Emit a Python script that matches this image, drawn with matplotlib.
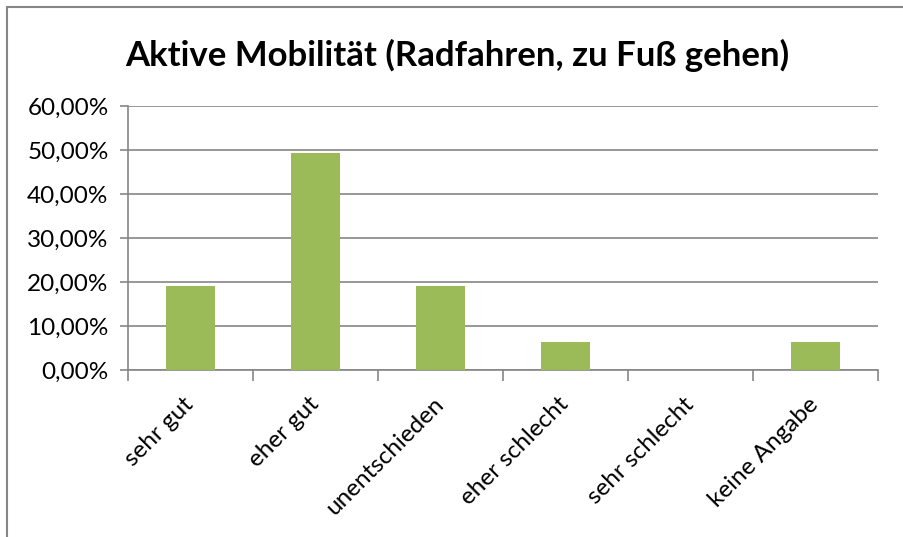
import matplotlib.pyplot as plt
from matplotlib.patches import Rectangle
from matplotlib.ticker import FuncFormatter, FixedLocator, NullFormatter
import numpy as np

categories = ['sehr gut', 'eher gut', 'unentschieden', 'eher schlecht',
              'sehr schlecht', 'keine Angabe']
shares = [19.05, 49.21, 19.05, 6.35, 0.0, 6.35]
y_ticks = [0, 10, 20, 30, 40, 50, 60]

plt.rcParams['font.family'] = ['Lato', 'DejaVu Sans']

W, H = 904, 537
fig = plt.figure(figsize=(W / 100, H / 100), dpi=100)

# chart border (cut off at right and bottom)
fig.patches.append(Rectangle((7 / W, -0.1), 1.2, 1 - 7 / H + 0.1,
                             transform=fig.transFigure, fill=False,
                             edgecolor='#868686', linewidth=1.5))

ax = fig.add_axes([128 / W, 1 - 370 / H, 750 / W, 264 / H])
x = np.arange(len(categories))
ax.bar(x, shares, width=0.39, color='#9BBB59', zorder=3)

ax.set_xlim(-0.5, len(categories) - 0.5)
ax.set_ylim(0, 60)
ax.set_yticks(y_ticks)
ax.yaxis.set_major_formatter(FuncFormatter(lambda v, p: f'{v:.2f}%'.replace('.', ',')))
ax.grid(axis='y', color='#868686', linewidth=1.2, zorder=0)

ax.xaxis.set_major_locator(FixedLocator(np.arange(-0.5, len(categories), 1)))
ax.xaxis.set_major_formatter(NullFormatter())
ax.xaxis.set_minor_locator(FixedLocator(x - 0.06))
ax.set_xticklabels(categories, minor=True, rotation=45, ha='right',
                   rotation_mode='anchor', fontsize=17.5)
ax.tick_params(axis='x', which='minor', length=0, pad=17)
ax.tick_params(axis='x', which='major', length=8, color='#868686', width=1.2)
ax.tick_params(axis='y', length=6, color='#868686', width=1.2, labelsize=17.5, pad=8)

for side in ['top', 'right']:
    ax.spines[side].set_visible(False)
ax.spines['left'].set_color('#868686')
ax.spines['bottom'].set_color('#868686')
ax.spines['left'].set_linewidth(1.2)
ax.spines['bottom'].set_linewidth(1.2)

fig.text(457 / W, 1 - 55 / H, 'Aktive Mobilität (Radfahren, zu Fuß gehen)',
         ha='center', va='center', fontsize=25, fontweight='bold')

fig.savefig('out.png', dpi=100)
